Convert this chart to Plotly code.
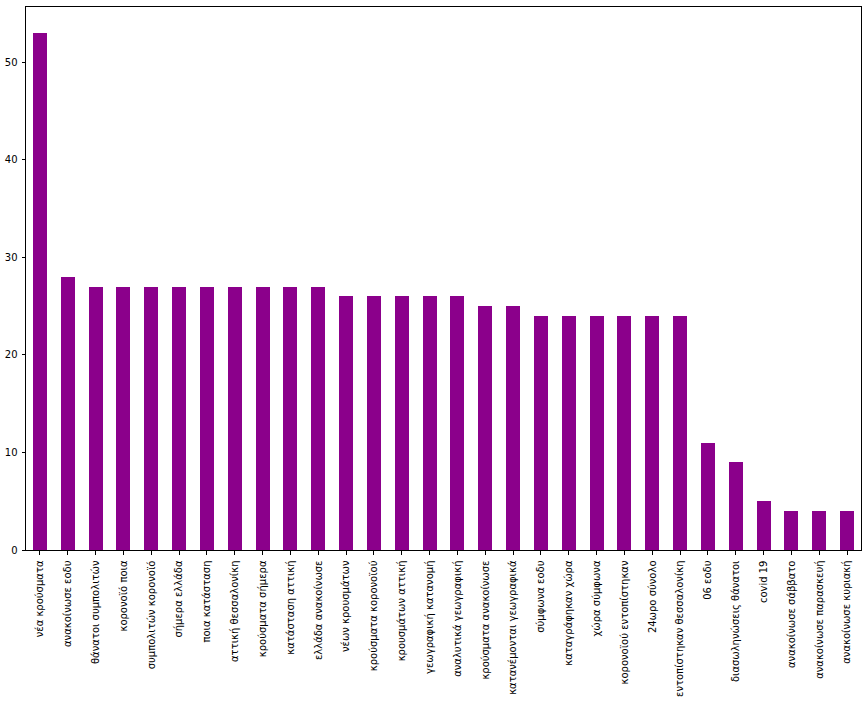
import plotly.graph_objects as go

labels = [
    "νέα κρούσματα", "ανακοίνωσε εοδυ", "θάνατοι συμπολιτών", "κορονοϊό ποια",
    "συμπολιτών κορονοϊό", "σήμερα ελλάδα", "ποια κατάσταση", "αττική θεσσαλονίκη",
    "κρούσματα σήμερα", "κατάσταση αττική", "ελλάδα ανακοίνωσε", "νέων κρουσμάτων",
    "κρούσματα κορονοϊού", "κρουσμάτων αττική", "γεωγραφική κατανομή",
    "αναλυτικά γεωγραφική", "κρούσματα ανακοίνωσε", "κατανέμονται γεωγραφικά",
    "σύμφωνα εοδυ", "καταγράφηκαν χώρα", "χώρα σύμφωνα", "κορονοϊού εντοπίστηκαν",
    "24ωρο σύνολο", "εντοπίστηκαν θεσσαλονίκη", "06 εοδυ", "διασωληνώσεις θάνατοι",
    "covid 19", "ανακοίνωσε σάββατο", "ανακοίνωσε παρασκευή", "ανακοίνωσε κυριακή",
]
counts = [53, 28, 27, 27, 27, 27, 27, 27, 27, 27, 27, 26, 26, 26, 26, 26, 25, 25,
          24, 24, 24, 24, 24, 24, 11, 9, 5, 4, 4, 4]
y_ticks = [0, 10, 20, 30, 40, 50]

fig = go.Figure(go.Bar(x=labels, y=counts, marker_color="#8B008B",
                       marker_line_width=0, width=0.5))

fig.update_layout(
    width=867, height=702,
    margin=dict(l=25, r=5, t=7, b=151),
    plot_bgcolor="white", paper_bgcolor="white",
    font=dict(family="DejaVu Sans", size=10, color="black"),
    showlegend=False,
    bargap=0,
)
fig.update_xaxes(
    type="category", range=[-0.5, 29.5], tickangle=-90,
    showline=True, linecolor="black", linewidth=1, mirror=True,
    ticks="outside", ticklen=3.5, tickcolor="black", tickwidth=0.8,
    showgrid=False, zeroline=False, ticklabelstandoff=2,
)
fig.update_yaxes(
    range=[0, 55.65], tickvals=y_ticks,
    showline=True, linecolor="black", linewidth=1, mirror=True,
    ticks="outside", ticklen=3.5, tickcolor="black", tickwidth=0.8,
    showgrid=False, zeroline=False, ticklabelstandoff=2,
)

fig.write_html("out.html")
